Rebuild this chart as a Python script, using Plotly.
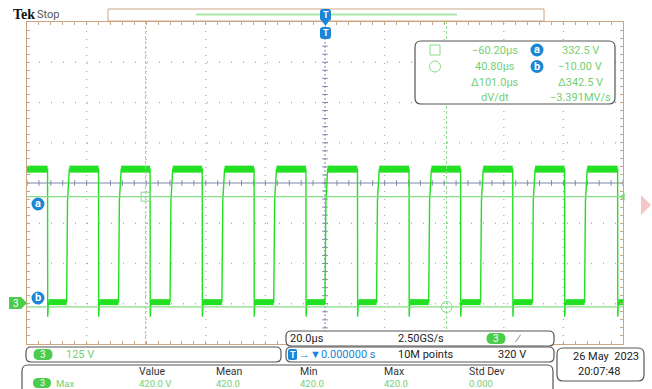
import plotly.graph_objects as go
import numpy as np

time_per_div_us = 20.0
volts_per_div = 125.0
ground_div = -3.0                      # ch3 ground marker position (divisions from centre)
rise_times_us = [-86.7, -69.3, -52.0, -34.6, -17.2, 0.0, 17.3, 34.8, 52.2, 69.6, 87.1]
fall_times_us = [-93.1, -76.0, -58.7, -41.2, -23.8, -6.4, 10.9, 28.2, 45.5, 63.0, 80.4, 98.2]
high_level_v = 418.0
low_level_v = 5.0
undershoot_v = -40.0
rise_knee_v = 320.0
cursor_times_us = [-60.20, 40.80]
cursor_levels_v = [332.5, -10.00]
cursor_labels = ["a", "b"]
readout_times = ["\u221260.20\u00b5s", "40.80\u00b5s", "\u0394101.0\u00b5s", "dV/dt"]
readout_volts = ["332.5 V", "\u221210.00 V", "\u0394342.5 V", "\u22123.391MV/s"]
meas_headers = ["Value", "Mean", "Min", "Max", "Std Dev"]
meas_values = ["420.0 V", "420.0", "420.0", "420.0", "0.000"]

# ---------------- geometry ----------------
W, H = 652, 389
L, R, T, B = 27, 623, 22, 344           # graticule box in window pixels
xmin, xmax = -5 * time_per_div_us, 5 * time_per_div_us
ycen = -ground_div * volts_per_div
ymin, ymax = ycen - 4 * volts_per_div, ycen + 4 * volts_per_div

def PX(p):
    return (p - L) / (R - L)

def PY(p):
    return (B - p) / (B - T)

GREEN = "#22e022"
LGREEN = "#86dc86"
TXTGREEN = "#74d074"
BLUE = "#1c86d6"
TAN = "#c8a686"
SLATE = "#7f88aa"
GRID = "#b0b0b0"
FONT = "Roboto"

fig = go.Figure()
shapes = []
ann = []

def rrect(x0, y0, x1, y1, r=5, color="#555", width=1, fill=None):
    rx = r / (R - L)
    ry = r / (B - T)
    a0, a1 = PX(x0), PX(x1)
    b0, b1 = PY(y0), PY(y1)
    p = (f"M {a0+rx},{b0} L {a1-rx},{b0} Q {a1},{b0} {a1},{b0-ry} "
         f"L {a1},{b1+ry} Q {a1},{b1} {a1-rx},{b1} L {a0+rx},{b1} "
         f"Q {a0},{b1} {a0},{b1+ry} L {a0},{b0-ry} Q {a0},{b0} {a0+rx},{b0} Z")
    shapes.append(dict(type="path", xref="paper", yref="paper", path=p,
                       line=dict(color=color, width=width),
                       fillcolor=fill if fill else "rgba(0,0,0,0)", layer="above"))

def txt(x, y, s, color="#222", size=11, anchor="left", family=FONT, bold=False):
    if bold:
        s = f"<b>{s}</b>"
    ann.append(dict(x=PX(x), y=PY(y), xref="paper", yref="paper", text=s,
                    showarrow=False, xanchor=anchor, yanchor="middle", borderpad=0,
                    font=dict(family=family, size=size, color=color)))

def pill(xc, yc, s, fill, w=18, h=12, tcolor="white", size=10):
    rrect(xc - w / 2, yc - h / 2, xc + w / 2, yc + h / 2, r=h / 2, color=fill, width=0, fill=fill)
    txt(xc, yc, s, color=tcolor, size=size, anchor="center")

def dot(xc, yc, s, fill=BLUE, rad=6.5):
    shapes.append(dict(type="circle", xref="paper", yref="paper",
                       x0=PX(xc - rad), x1=PX(xc + rad), y0=PY(yc + rad), y1=PY(yc - rad),
                       fillcolor=fill, line=dict(width=0), layer="above"))
    txt(xc, yc - 0.5, s, color="white", size=11, anchor="center", bold=True)

# ---------------- graticule ----------------
for k in range(-4, 5):
    if k == 0:
        continue
    xv = k * time_per_div_us
    shapes.append(dict(type="line", xref="x", yref="y", x0=xv, x1=xv, y0=ymin, y1=ymax,
                       line=dict(color=GRID, width=1.3, dash="1px,7px"), layer="below"))
for k in range(-3, 4):
    if k == 0:
        continue
    yv = ycen + k * volts_per_div
    shapes.append(dict(type="line", xref="x", yref="y", x0=xmin, x1=xmax, y0=yv, y1=yv,
                       line=dict(color=GRID, width=1.3, dash="1px,11px"), layer="below"))
shapes.append(dict(type="line", xref="x", yref="y", x0=xmin, x1=xmax, y0=ycen, y1=ycen,
                   line=dict(color=SLATE, width=1), layer="below"))
shapes.append(dict(type="line", xref="x", yref="y", x0=0, x1=0, y0=ymin, y1=ymax,
                   line=dict(color=SLATE, width=1, dash="2px,2px"), layer="below"))
tx = np.arange(xmin, xmax + 0.01, time_per_div_us / 5)
fig.add_trace(go.Scatter(x=tx, y=[ycen] * len(tx), mode="markers", hoverinfo="skip",
                         marker=dict(symbol="line-ns", size=4, line=dict(color=SLATE, width=1))))
ty = np.arange(ymin, ymax + 0.01, volts_per_div / 5)
fig.add_trace(go.Scatter(x=[0] * len(ty), y=ty, mode="markers", hoverinfo="skip",
                         marker=dict(symbol="line-ew", size=4, line=dict(color=SLATE, width=1))))

# ---------------- waveform ----------------
events = sorted([(t, "r") for t in rise_times_us] + [(t, "f") for t in fall_times_us])
wx, wy = [xmin], [high_level_v]
hx, hy, lx, ly = [], [], [], []
seg_start = xmin
level = "h"
for t, kind in events:
    if kind == "f":
        hx += [seg_start, t, None]; hy += [high_level_v, high_level_v, None]
        wx += [t, t + 0.05, t + 0.3]; wy += [high_level_v, undershoot_v, low_level_v]
        seg_start = t + 0.3
        level = "l"
    else:
        lx += [seg_start, t, None]; ly += [low_level_v, low_level_v, None]
        wx += [t, t + 0.3, t + 0.9]; wy += [low_level_v, rise_knee_v, high_level_v]
        seg_start = t + 0.9
        level = "h"
if level == "h":
    hx += [seg_start, xmax]; hy += [high_level_v, high_level_v]
    wx.append(xmax); wy.append(high_level_v)
else:
    lx += [seg_start, xmax]; ly += [low_level_v, low_level_v]
    wx.append(xmax); wy.append(low_level_v)

fig.add_trace(go.Scatter(x=wx, y=wy, mode="lines", line=dict(color=GREEN, width=1.4), hoverinfo="skip"))
fig.add_trace(go.Scatter(x=hx, y=hy, mode="lines", line=dict(color=GREEN, width=7), hoverinfo="skip"))
fig.add_trace(go.Scatter(x=lx, y=ly, mode="lines", line=dict(color=GREEN, width=6), hoverinfo="skip"))

# ---------------- cursors ----------------
for tc in cursor_times_us:
    shapes.append(dict(type="line", xref="x", yref="y", x0=tc, x1=tc, y0=ymin, y1=ymax,
                       line=dict(color=LGREEN, width=1, dash="3px,2px"), layer="above"))
for vc in cursor_levels_v:
    shapes.append(dict(type="line", xref="x", yref="y", x0=xmin, x1=xmax, y0=vc, y1=vc,
                       line=dict(color=LGREEN, width=1.2), layer="above"))
fig.add_trace(go.Scatter(x=[cursor_times_us[0]], y=[cursor_levels_v[0]], mode="markers",
                         marker=dict(symbol="square-open", size=9, color=LGREEN, line=dict(width=1)),
                         hoverinfo="skip"))
fig.add_trace(go.Scatter(x=[cursor_times_us[1]], y=[cursor_levels_v[1]], mode="markers",
                         marker=dict(symbol="circle-open", size=11, color=LGREEN, line=dict(width=1)),
                         hoverinfo="skip"))
fig.add_trace(go.Scatter(x=[xmax], y=[cursor_levels_v[0]], mode="markers", cliponaxis=False,
                         marker=dict(symbol="triangle-left", size=7, color=LGREEN), hoverinfo="skip"))

dot(38, 204, cursor_labels[0])
dot(38, 298, cursor_labels[1])
gy = 303
p = (f"M {PX(9)},{PY(gy-6)} L {PX(21)},{PY(gy-6)} L {PX(27)},{PY(gy)} "
     f"L {PX(21)},{PY(gy+6)} L {PX(9)},{PY(gy+6)} Z")
shapes.append(dict(type="path", xref="paper", yref="paper", path=p,
                   fillcolor="#4ccc4c", line=dict(width=0), layer="above"))
txt(16, gy, "3", color="white", size=10, anchor="center")

# ---------------- top bar ----------------
txt(12, 14.5, "Tek", color="#111", size=14, family="Liberation Serif", bold=True)
txt(36, 14.5, "Stop", color="#555", size=11)
shapes.append(dict(type="rect", xref="paper", yref="paper", x0=PX(108), x1=PX(544),
                   y0=PY(21), y1=PY(9), line=dict(color=TAN, width=1)))
shapes.append(dict(type="line", xref="paper", yref="paper", x0=PX(196), x1=PX(457),
                   y0=PY(14.5), y1=PY(14.5), line=dict(color="#a6e6a6", width=2)))
for yc in (15, 33):
    rrect(320, yc - 6, 331, yc + 6, r=3, color=BLUE, width=0, fill=BLUE)
    txt(325.5, yc, "T", color="white", size=9, anchor="center", bold=True)
p = f"M {PX(322)},{PY(21)} L {PX(329)},{PY(21)} L {PX(325.5)},{PY(26)} Z"
shapes.append(dict(type="path", xref="paper", yref="paper", path=p,
                   fillcolor=BLUE, line=dict(width=0)))

# ---------------- cursor readout ----------------
rrect(415, 41, 615, 104, r=6, color="#555", width=1.2, fill="white")
rows_y = [50, 66.5, 82, 97]
shapes.append(dict(type="rect", xref="paper", yref="paper", x0=PX(430), x1=PX(440),
                   y0=PY(55), y1=PY(45), line=dict(color=LGREEN, width=1)))
shapes.append(dict(type="circle", xref="paper", yref="paper", x0=PX(429.5), x1=PX(440.5),
                   y0=PY(72), y1=PY(61), line=dict(color=LGREEN, width=1)))
for yy, s in zip(rows_y, readout_times):
    txt(495, yy, s, color=TXTGREEN, size=11, anchor="center")
for yy, s in zip(rows_y, readout_volts):
    txt(580, yy, s, color=TXTGREEN, size=11, anchor="center")
dot(537, 50, cursor_labels[0])
dot(537, 66.5, cursor_labels[1])
p = f"M {PX(641)},{PY(195)} L {PX(651)},{PY(205)} L {PX(641)},{PY(215)} Z"
shapes.append(dict(type="path", xref="paper", yref="paper", path=p,
                   fillcolor="#f4c6c6", line=dict(width=0)))

# ---------------- bottom status ----------------
rrect(26, 347, 281, 362, r=5, color="#555", width=1.2, fill="white")
pill(43, 354.5, "3", "#4ccc4c", w=19, h=11)
txt(65, 354.5, "125 V", color=TXTGREEN, size=11)

rrect(286, 331, 554, 346, r=5, color="#555", width=1.2, fill="white")
txt(289, 338.5, "20.0\u00b5s", color="#222", size=11)
txt(397, 338.5, "2.50GS/s", color="#222", size=11)
pill(496, 338.5, "3", "#4ccc4c", w=19, h=11)
txt(518, 338.5, "\u2215", color="#222", size=11, anchor="center")

rrect(286, 347, 554, 362, r=5, color="#555", width=1.2, fill="white")
rrect(288, 349, 297, 360, r=2, color=BLUE, width=0, fill=BLUE)
txt(292.5, 354.5, "T", color="white", size=9, anchor="center", bold=True)
txt(298, 354.5, "\u2192\u25bc0.000000 s", color=BLUE, size=11)
txt(397, 354.5, "10M points", color="#222", size=11)
txt(497, 354.5, "320 V", color="#222", size=11)

rrect(557, 348, 644, 381, r=6, color="#555", width=1.2, fill="white")
txt(640, 356, "26 May  2023", color="#222", size=11, anchor="right")
txt(577, 371, "20:07:48", color="#222", size=11)

rrect(22, 365, 553, 400, r=6, color="#555", width=1.2, fill="white")
col_x = [138, 215, 299, 383, 468]
for xx, s in zip(col_x, meas_headers):
    txt(xx, 371, s, color="#333", size=10.5)
pill(42, 383, "3", "#4ccc4c", w=18, h=10, size=9)
txt(55, 383, "Max", color=TXTGREEN, size=9.5)
for xx, s in zip(col_x, meas_values):
    txt(xx, 383, s, color=TXTGREEN, size=9.5)

fig.update_layout(
    width=W, height=H,
    margin=dict(l=L, r=W - R, t=T, b=H - B, autoexpand=False),
    paper_bgcolor="white", plot_bgcolor="white", showlegend=False, hovermode=False,
    shapes=shapes, annotations=ann,
    xaxis=dict(range=[xmin, xmax], showgrid=False, zeroline=False, showticklabels=False,
               showline=True, linecolor=TAN, linewidth=1.2, mirror="ticks", ticks="inside",
               ticklen=3, tickcolor=TAN, dtick=time_per_div_us / 5, tick0=0, fixedrange=True),
    yaxis=dict(range=[ymin, ymax], showgrid=False, zeroline=False, showticklabels=False,
               showline=True, linecolor=TAN, linewidth=1.2, mirror="ticks", ticks="inside",
               ticklen=3, tickcolor=TAN, dtick=volts_per_div / 5, tick0=0, fixedrange=True),
)

fig.write_html("out.html", config={"displayModeBar": False, "staticPlot": True},
               post_script="document.body.style.margin='0';document.body.style.overflow='hidden';")
